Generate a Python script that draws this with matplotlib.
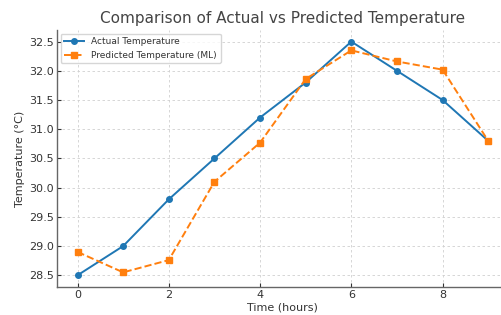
import matplotlib
matplotlib.use("Agg")
import matplotlib.pyplot as plt

hours = [0, 1, 2, 3, 4, 5, 6, 7, 8, 9]
actual = [28.5, 29.0, 29.8, 30.5, 31.2, 31.8, 32.5, 32.0, 31.5, 30.8]
predicted = [28.9, 28.55, 28.76, 30.1, 30.77, 31.86, 32.35, 32.16, 32.02, 30.8]
xticks = [0, 2, 4, 6, 8]
yticks = [28.5, 29.0, 29.5, 30.0, 30.5, 31.0, 31.5, 32.0, 32.5]

fig = plt.figure(figsize=(5.02, 3.15), dpi=100)
ax = fig.add_axes([0.1135, 0.089, 0.900, 0.816])

ax.plot(hours, actual, color="#1f77b4", marker="o", markersize=4, linewidth=1.4,
        label="Actual Temperature")
ax.plot(hours, predicted, color="#ff7f0e", marker="s", markersize=4, linewidth=1.4,
        linestyle="--", label="Predicted Temperature (ML)")

ax.set_xticks(xticks)
ax.set_yticks(yticks)
ax.set_xlim(-0.45, 9.45)
ax.set_ylim(28.3, 32.7)
ax.grid(True, linestyle=(0, (3, 3)), color="#d0d0d0", linewidth=0.6)
for s in ["top", "right"]:
    ax.spines[s].set_visible(False)
for s in ["left", "bottom"]:
    ax.spines[s].set_color("#666666")
    ax.spines[s].set_linewidth(1.0)
ax.tick_params(direction="in", colors="#333333", labelsize=8, length=3, width=0.8, pad=2)
ax.set_xlabel("Time (hours)", fontsize=8, color="#333333", labelpad=2)
ax.set_ylabel("Temperature (°C)", fontsize=8, color="#333333", labelpad=3)
ax.set_title("Comparison of Actual vs Predicted Temperature", fontsize=11,
             color="#444444", pad=5)
leg = ax.legend(loc="upper left", fontsize=6.5, frameon=True, borderaxespad=0.4,
                handlelength=2.2)
leg.get_frame().set_edgecolor("#cccccc")
for t in leg.get_texts():
    t.set_color("#333333")

fig.savefig("out.png", dpi=100)
